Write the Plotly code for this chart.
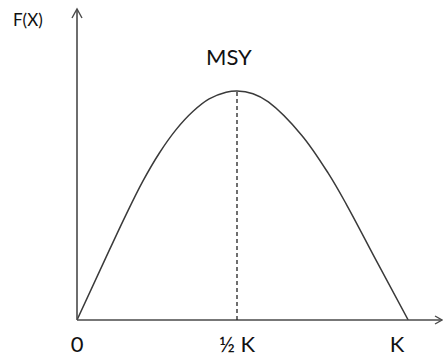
import plotly.graph_objects as go

# Surplus production curve F(X) against stock size X (X in units of K, F in units of MSY)
stock = [0, 0.101, 0.153, 0.205, 0.257, 0.309, 0.362, 0.413, 0.466, 0.5,
         0.55, 0.598, 0.702, 0.785, 0.843, 0.937, 1.035]
growth = [0, 0.305, 0.459, 0.604, 0.728, 0.830, 0.910, 0.965, 0.994, 1.0,
          0.988, 0.952, 0.807, 0.641, 0.502, 0.255, 0]

msy_stock = 0.5
msy_value = 1.0

tick_values = [0, 0.5, 1.0]
tick_labels = ["0", "½ K", "K"]

FONT = "Lato"
TEXT = "#111111"
AXIS = "#4a4a4a"

# axis ends, in paper fractions of the plotting area
x_end = 0.9973
y_end = 0.9719

fig = go.Figure()

fig.add_trace(go.Scatter(
    x=stock, y=growth, mode="lines",
    line=dict(color="#3a3a3a", width=1.5, shape="spline", smoothing=1.0),
    hoverinfo="skip", showlegend=False,
))

paper = dict(xref="paper", yref="paper")
shapes = [
    # axes
    dict(type="line", x0=0, y0=0, x1=x_end, y1=0, line=dict(color=AXIS, width=1.6), **paper),
    dict(type="line", x0=0, y0=0, x1=0, y1=y_end, line=dict(color=AXIS, width=1.6), **paper),
    # open arrowheads
    dict(type="path", xsizemode="pixel", ysizemode="pixel", xanchor=0, yanchor=y_end,
         path="M -5,-9 L 0,0 L 5,-9", line=dict(color=AXIS, width=1.4), **paper),
    dict(type="path", xsizemode="pixel", ysizemode="pixel", xanchor=x_end, yanchor=0,
         path="M -7,4 L 0,0 L -7,-4", line=dict(color=AXIS, width=1.4), **paper),
    # MSY drop line
    dict(type="line", x0=msy_stock, y0=0, x1=msy_stock, y1=msy_value, xref="x", yref="y",
         line=dict(color="#222222", width=1.3, dash="4px,3px")),
]

annotations = [
    dict(x=0.474, y=1.151, xref="x", yref="y", text="MSY", showarrow=False,
         font=dict(family=FONT, size=22, color=TEXT), xanchor="center", yanchor="middle"),
    dict(x=-0.1352, y=0.9384, xref="paper", yref="paper", text="F(X)", showarrow=False,
         font=dict(family=FONT, size=17, color=TEXT), xanchor="center", yanchor="middle"),
]

fig.update_layout(
    width=443, height=356,
    margin=dict(l=77, r=0, t=0, b=36),
    paper_bgcolor="white", plot_bgcolor="white",
    shapes=shapes, annotations=annotations,
    xaxis=dict(range=[0, 1.14375], showgrid=False, zeroline=False, showline=False,
               tickvals=tick_values, ticktext=tick_labels, ticks="",
               tickfont=dict(family=FONT, size=22, color=TEXT),
               ticklabelstandoff=9, automargin=False, fixedrange=True),
    yaxis=dict(range=[0, 1.397], showgrid=False, zeroline=False, showline=False,
               showticklabels=False, ticks="", automargin=False, fixedrange=True),
    showlegend=False,
)

fig.write_html("out.html")
